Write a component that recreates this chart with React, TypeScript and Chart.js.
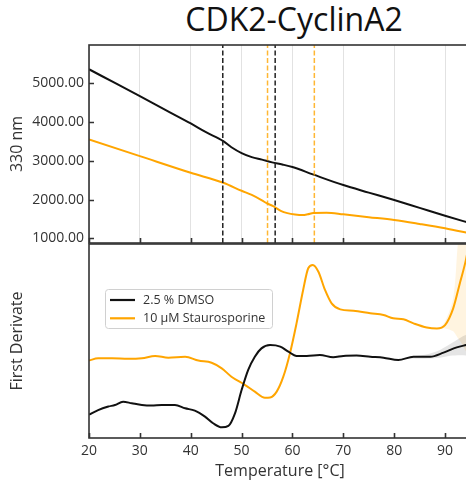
import React, { useEffect, useRef } from 'react';
import { Chart, registerables } from 'chart.js';

Chart.register(...registerables);

const TITLE = 'CDK2-CyclinA2';
const X_TITLE = 'Temperature [°C]';
const Y_TITLE_TOP = '330 nm';
const Y_TITLE_BOTTOM = 'First Derivate';
const SERIES_NAMES = ['2.5 % DMSO', '10 µM Staurosporine'];

const X_MIN = 20;
const X_MAX = 95.1;
const X_TICKS = [20, 30, 40, 50, 60, 70, 80, 90];
const Y_TICKS_330 = [1000, 2000, 3000, 4000, 5000];
const Y_MIN_330 = 879;
const Y_MAX_330 = 5989;

// melting points (vertical dashed lines)
const DMSO_TM = [46.3, 56.6];
const STAURO_TM = [55.1, 64.3];

// 330 nm raw signal
const DMSO_330_T = [20, 25, 30, 35, 40, 43, 46.4, 48, 50, 52, 54, 56, 58, 60, 64, 70, 75, 80, 85, 90, 95.1];
const DMSO_330 = [5363, 5015, 4667, 4315, 3964, 3740, 3508, 3350, 3200, 3095, 3030, 2960, 2905, 2840, 2650, 2374, 2180, 1987, 1785, 1583, 1385];
const STAURO_330_T = [20, 30, 40, 46.4, 50, 52, 54, 55, 56.2, 57.7, 59, 60.5, 62, 63, 64.1, 66.7, 70, 75, 80, 85, 90, 95.1];
const STAURO_330 = [3551, 3121, 2691, 2433, 2227, 2120, 1980, 1900, 1830, 1710, 1650, 1615, 1600, 1620, 1655, 1660, 1618, 1545, 1472, 1370, 1258, 1120];

// first derivative (arbitrary units, 0..100 panel)
const DMSO_D_T = [20, 21.8, 23.8, 25.1, 26.7, 28.4, 30.4, 32.3, 34.3, 36.9, 38.9, 40.8, 42.8, 44.4, 46.1, 47.4, 48.7, 50, 51.3, 52.6, 53.9, 55.6, 57.6, 59.2, 60.8, 62.8, 65.4, 68, 70, 72.6, 75.3, 77.9, 80.8, 83.8, 87.1, 89.7, 92.3, 94.1, 95.1];
const DMSO_D = [12.0, 14.4, 16.2, 17.0, 18.7, 17.9, 17.0, 16.7, 17.0, 17.0, 15.3, 14.1, 11.0, 7.6, 5.5, 6.2, 12.7, 24.7, 35.1, 41.9, 46.2, 47.9, 47.1, 44.5, 42.3, 42.3, 42.8, 41.6, 42.3, 42.5, 41.9, 41.4, 40.2, 41.9, 41.9, 44.0, 46.7, 47.9, 48.5];
const STAURO_D_T = [20, 21.8, 24.5, 27.7, 30.4, 33, 35.6, 38.9, 41.5, 44.1, 46.1, 48, 50.7, 52.6, 54.6, 55.6, 56.9, 58.2, 59.5, 60.8, 62.1, 63.1, 64, 65.1, 66.4, 67.7, 69.4, 72, 75.3, 77.9, 79.8, 81.8, 83.8, 86.4, 88.4, 90, 91.6, 92.9, 94.1, 95.1];
const STAURO_D = [39.9, 41.1, 41.1, 40.8, 41.1, 42.3, 41.4, 41.9, 39.9, 38.8, 35.9, 31.6, 27.3, 23.9, 20.8, 20.9, 23.9, 31.6, 43.6, 59.1, 76.3, 87.5, 89.2, 85.7, 76.3, 69.4, 66.3, 65.6, 64.3, 63.4, 61.7, 61.2, 59.1, 57.0, 56.5, 58.2, 66.8, 79.7, 91.8, 106];

// uncertainty bands
const DMSO_BAND_T = [83, 86, 89, 91, 93, 95.1];
const DMSO_BAND_HI = [42, 42.9, 45.4, 48.4, 51.7, 54.5];
const DMSO_BAND_LO = [41, 40.9, 41.4, 42.4, 42.7, 42.5];
const STAURO_BAND_T = [89, 90, 91.6, 92.5, 93.2, 95.1];
const STAURO_BAND_HI = [57, 60, 72, 100, 118, 150];
const STAURO_BAND_LO = [56, 56.5, 55, 51.5, 49, 40];

const BLACK = '#111111';
const ORANGE = '#ffa500';
const FONT = "'Open Sans', sans-serif";
const TEXT = '#333333';

const pts = (xs: number[], ys: number[]) => xs.map((x, i) => ({ x, y: ys[i] }));

const framePlugin = {
  id: 'frame',
  afterDatasetsDraw(chart: any, _args: any, opts: any) {
    const { ctx, chartArea, scales } = chart;
    const { left, right, top, bottom } = chartArea;
    ctx.save();
    ctx.strokeStyle = '#333';
    ctx.lineWidth = 1.6;
    ctx.beginPath();
    X_TICKS.forEach((v) => {
      const px = Math.round(scales.x.getPixelForValue(v)) + 0.5;
      ctx.moveTo(px, bottom);
      ctx.lineTo(px, bottom - 5);
    });
    if (opts && opts.yTicks) {
      (opts.yTicks as number[]).forEach((v) => {
        const py = Math.round(scales.y.getPixelForValue(v)) + 0.5;
        ctx.moveTo(left, py);
        ctx.lineTo(left + 5, py);
      });
    }
    ctx.stroke();
    ctx.strokeRect(left, top, right - left, bottom - top);
    ctx.restore();
  },
};

const legendPlugin = {
  id: 'boxLegend',
  afterDraw(chart: any, _args: any, opts: any) {
    if (!opts || !opts.show) return;
    const { ctx, chartArea } = chart;
    const x0 = chartArea.left + 16;
    const y0 = chartArea.top + 45;
    const w = 167;
    const h = 39;
    ctx.save();
    ctx.fillStyle = 'rgba(255,255,255,0.8)';
    ctx.strokeStyle = '#d0d0d0';
    ctx.lineWidth = 1;
    ctx.beginPath();
    if (ctx.roundRect) ctx.roundRect(x0 + 0.5, y0 + 0.5, w, h, 3);
    else ctx.rect(x0 + 0.5, y0 + 0.5, w, h);
    ctx.fill();
    ctx.stroke();
    const colors = [BLACK, ORANGE];
    const rows = [y0 + 11, y0 + 29.3];
    ctx.font = `12.5px ${FONT}`;
    ctx.textBaseline = 'middle';
    ctx.textAlign = 'left';
    SERIES_NAMES.forEach((name, i) => {
      ctx.strokeStyle = colors[i];
      ctx.lineWidth = 2.2;
      ctx.beginPath();
      ctx.moveTo(x0 + 5, rows[i]);
      ctx.lineTo(x0 + 30, rows[i]);
      ctx.stroke();
      ctx.fillStyle = TEXT;
      ctx.fillText(name, x0 + 38, rows[i] + 0.5);
    });
    ctx.restore();
  },
};

export default function App() {
  const topRef = useRef<HTMLCanvasElement>(null);
  const botRef = useRef<HTMLCanvasElement>(null);

  useEffect(() => {
    Chart.defaults.font.family = FONT;
    const vline = (x: number, color: string) => ({
      data: [
        { x, y: Y_MIN_330 },
        { x, y: Y_MAX_330 },
      ],
      borderColor: color,
      borderWidth: 1.5,
      borderDash: [5, 2.5],
      pointRadius: 0,
      tension: 0,
      order: 0,
    });

    const top = new Chart(topRef.current!, {
      type: 'line',
      data: {
        datasets: [
          {
            label: SERIES_NAMES[0],
            data: pts(DMSO_330_T, DMSO_330),
            borderColor: BLACK,
            borderWidth: 2,
            pointRadius: 0,
            cubicInterpolationMode: 'monotone',
            order: 2,
          },
          {
            label: SERIES_NAMES[1],
            data: pts(STAURO_330_T, STAURO_330),
            borderColor: ORANGE,
            borderWidth: 2,
            pointRadius: 0,
            cubicInterpolationMode: 'monotone',
            order: 2,
          },
          ...DMSO_TM.map((t) => vline(t, '#222222')),
          ...STAURO_TM.map((t) => vline(t, 'rgba(255,165,0,0.8)')),
        ] as any,
      },
      options: {
        animation: false,
        responsive: false,
        events: [],
        layout: { padding: { left: 0, right: 9, top: 45, bottom: 0 } },
        plugins: {
          legend: { display: false },
          tooltip: { enabled: false },
          frame: { yTicks: Y_TICKS_330 },
        } as any,
        scales: {
          x: {
            type: 'linear',
            min: X_MIN,
            max: X_MAX,
            afterBuildTicks: (s: any) => {
              s.ticks = X_TICKS.map((v) => ({ value: v }));
            },
            afterFit: (s: any) => {
              s.height = 1;
              s.paddingLeft = 0;
              s.paddingRight = 0;
            },
            ticks: { display: false },
            grid: { color: '#e2e2e2', lineWidth: 1, drawTicks: false },
            border: { display: false },
          },
          y: {
            type: 'linear',
            min: Y_MIN_330,
            max: Y_MAX_330,
            afterBuildTicks: (s: any) => {
              s.ticks = Y_TICKS_330.map((v) => ({ value: v }));
            },
            afterFit: (s: any) => {
              s.width = 89;
              s.paddingTop = 0;
              s.paddingBottom = 0;
            },
            ticks: {
              callback: (v: any) => Number(v).toFixed(2),
              font: { size: 14 },
              color: TEXT,
              padding: 5,
            },
            grid: { display: false, drawTicks: false },
            border: { display: false },
            title: {
              display: true,
              text: Y_TITLE_TOP,
              font: { size: 16 },
              color: TEXT,
              padding: { top: 8, bottom: 0 },
            },
          },
        },
      } as any,
      plugins: [framePlugin],
    });

    const bot = new Chart(botRef.current!, {
      type: 'line',
      data: {
        datasets: [
          {
            data: pts(DMSO_BAND_T, DMSO_BAND_LO),
            borderWidth: 0,
            borderColor: 'rgba(0,0,0,0)',
            pointRadius: 0,
            tension: 0.3,
            order: 5,
          },
          {
            data: pts(DMSO_BAND_T, DMSO_BAND_HI),
            borderWidth: 0,
            borderColor: 'rgba(0,0,0,0)',
            backgroundColor: 'rgba(0,0,0,0.1)',
            fill: '-1',
            pointRadius: 0,
            tension: 0.3,
            order: 5,
          },
          {
            data: pts(STAURO_BAND_T, STAURO_BAND_LO),
            borderWidth: 0,
            borderColor: 'rgba(0,0,0,0)',
            pointRadius: 0,
            tension: 0.3,
            order: 5,
          },
          {
            data: pts(STAURO_BAND_T, STAURO_BAND_HI),
            borderWidth: 0,
            borderColor: 'rgba(0,0,0,0)',
            backgroundColor: 'rgba(255,165,0,0.12)',
            fill: '-1',
            pointRadius: 0,
            tension: 0.3,
            order: 5,
          },
          {
            label: SERIES_NAMES[0],
            data: pts(DMSO_D_T, DMSO_D),
            borderColor: BLACK,
            borderWidth: 2,
            pointRadius: 0,
            cubicInterpolationMode: 'monotone',
            order: 1,
          },
          {
            label: SERIES_NAMES[1],
            data: pts(STAURO_D_T, STAURO_D),
            borderColor: ORANGE,
            borderWidth: 2,
            pointRadius: 0,
            cubicInterpolationMode: 'monotone',
            order: 1,
          },
        ] as any,
      },
      options: {
        animation: false,
        responsive: false,
        events: [],
        layout: { padding: { left: 0, right: 9, top: 4, bottom: 0 } },
        plugins: {
          legend: { display: false },
          tooltip: { enabled: false },
          boxLegend: { show: true },
          frame: {},
        } as any,
        scales: {
          x: {
            type: 'linear',
            min: X_MIN,
            max: X_MAX,
            afterBuildTicks: (s: any) => {
              s.ticks = X_TICKS.map((v) => ({ value: v }));
            },
            afterFit: (s: any) => {
              s.height = 43;
              s.paddingLeft = 0;
              s.paddingRight = 0;
            },
            ticks: {
              font: { size: 14 },
              color: TEXT,
              padding: 5,
              maxRotation: 0,
              autoSkip: false,
            },
            grid: { display: false, drawTicks: false },
            border: { display: false },
            title: {
              display: true,
              text: X_TITLE,
              font: { size: 16 },
              color: TEXT,
              padding: { top: 0, bottom: 0 },
            },
          },
          y: {
            type: 'linear',
            min: 0,
            max: 100,
            afterFit: (s: any) => {
              s.width = 89;
              s.paddingTop = 0;
              s.paddingBottom = 0;
            },
            ticks: { display: false },
            grid: { display: false, drawTicks: false },
            border: { display: false },
            title: {
              display: true,
              text: Y_TITLE_BOTTOM,
              font: { size: 16 },
              color: TEXT,
              padding: { top: 8, bottom: 0 },
            },
          },
        },
      } as any,
      plugins: [framePlugin, legendPlugin],
    });

    return () => {
      top.destroy();
      bot.destroy();
    };
  }, []);

  return (
    <div
      style={{
        position: 'fixed',
        left: 0,
        top: 0,
        width: 466,
        height: 481,
        overflow: 'hidden',
        background: '#ffffff',
      }}
    >
      <div
        style={{
          position: 'absolute',
          left: 0,
          top: 3,
          width: 588,
          textAlign: 'center',
          fontFamily: FONT,
          fontSize: 32,
          lineHeight: '32px',
          color: '#111',
          whiteSpace: 'nowrap',
        }}
      >
        {TITLE}
      </div>
      <canvas
        ref={topRef}
        width={480}
        height={244}
        style={{ position: 'absolute', left: 0, top: 0 }}
      />
      <canvas
        ref={botRef}
        width={480}
        height={241}
        style={{ position: 'absolute', left: 0, top: 240 }}
      />
    </div>
  );
}
